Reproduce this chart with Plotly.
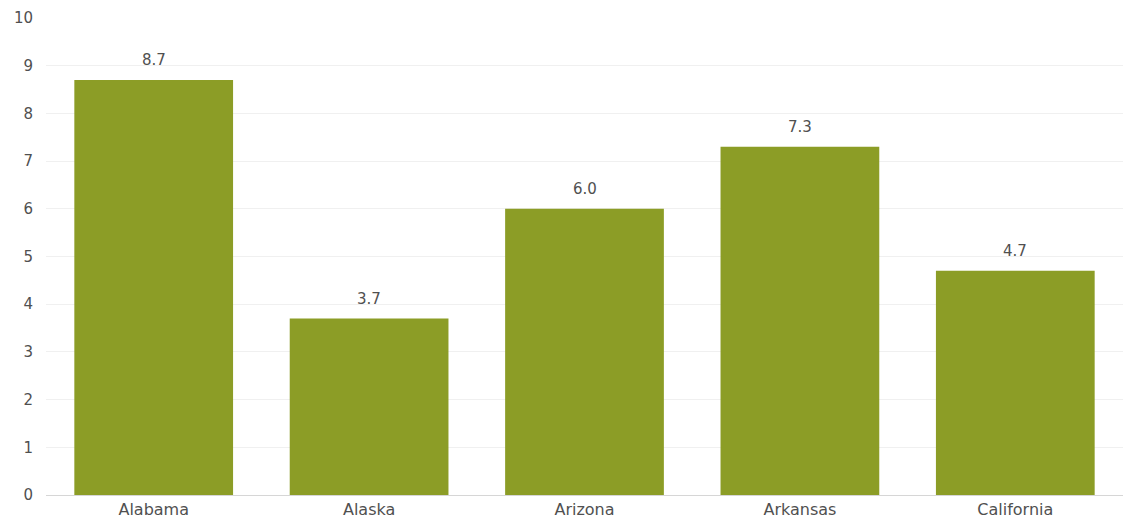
import plotly.graph_objects as go

states = ["Alabama", "Alaska", "Arizona", "Arkansas", "California"]
values = [8.7, 3.7, 6.0, 7.3, 4.7]
labels = ["8.7", "3.7", "6.0", "7.3", "4.7"]
y_ticks = [0, 1, 2, 3, 4, 5, 6, 7, 8, 9, 10]

font_family = "DejaVu Sans"
grey = "#505050"

fig = go.Figure(
    go.Bar(
        x=states,
        y=values,
        marker=dict(color="#8C9D26", line=dict(width=0)),
        hoverinfo="x+y",
    )
)

for s, v, t in zip(states, values, labels):
    fig.add_annotation(
        x=s, y=v, text=t, showarrow=False, yanchor="bottom", yshift=9,
        font=dict(family=font_family, size=15, color=grey),
    )

fig.update_layout(
    width=1123,
    height=518,
    margin=dict(l=46, r=0, t=18, b=23),
    paper_bgcolor="white",
    plot_bgcolor="white",
    bargap=0.263,
    showlegend=False,
    font=dict(family=font_family, size=15, color=grey),
    xaxis=dict(
        showgrid=False,
        showline=True,
        linecolor="#d6d6d6",
        linewidth=1,
        ticks="",
        tickfont=dict(family=font_family, size=16, color=grey),
    ),
    yaxis=dict(
        range=[0, 10],
        tickvals=y_ticks,
        showgrid=True,
        gridcolor="#f0f0f0",
        zeroline=False,
        showline=False,
        ticks="",
        ticklabelstandoff=12,
        tickfont=dict(family=font_family, size=15, color=grey),
    ),
)

fig.write_html("out.html")
